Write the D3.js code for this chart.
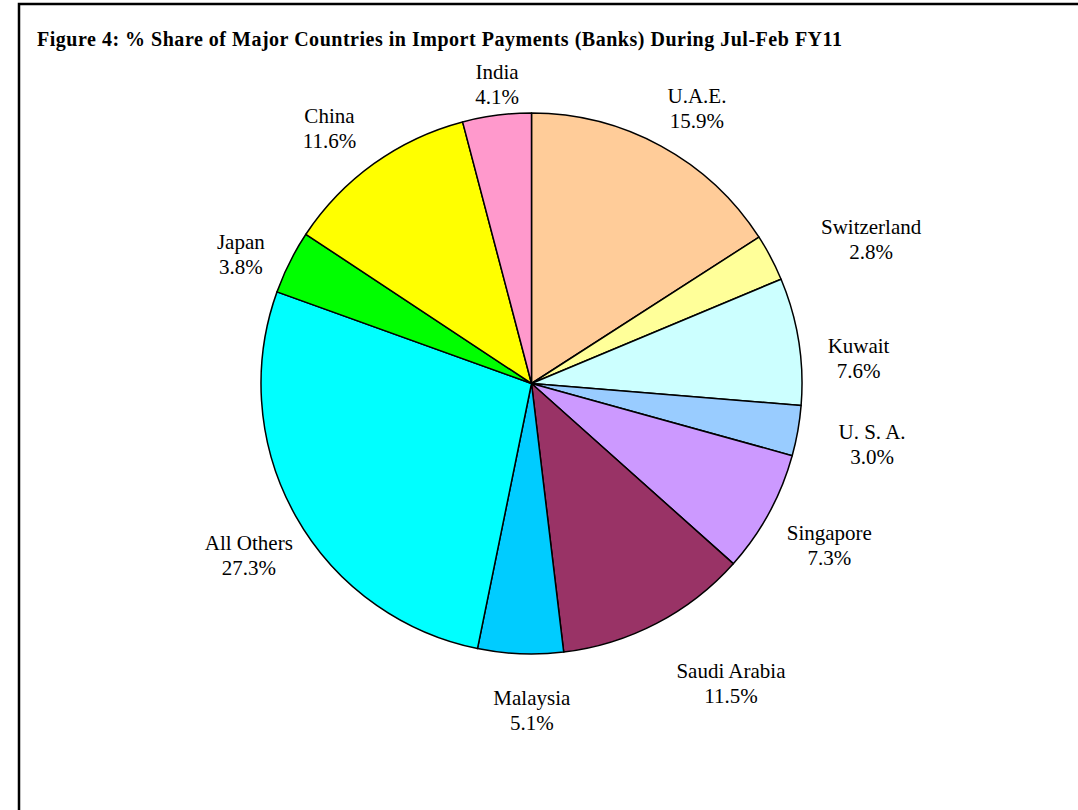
<!DOCTYPE html>
<html>
<head>
<meta charset="utf-8">
<script src="https://cdn.jsdelivr.net/npm/d3@7"></script>
<style>
  html, body { margin: 0; padding: 0; background: #fff; }
  svg { display: block; }
</style>
</head>
<body>
<svg id="chart" width="1078" height="810"></svg>
<script>
// ---- data ----
const countries = ["U.A.E.", "Switzerland", "Kuwait", "U. S. A.", "Singapore", "Saudi Arabia",
                   "Malaysia", "All Others", "Japan", "China", "India"];
const shares = [15.9, 2.8, 7.6, 3.0, 7.3, 11.5, 5.1, 27.3, 3.8, 11.6, 4.1];
const colors = ["#FFCC99", "#FFFF99", "#CCFFFF", "#99CCFF", "#CC99FF", "#993366",
                "#00CCFF", "#00FFFF", "#00FF00", "#FFFF00", "#FF99CC"];
const titleText = "Figure 4: % Share of Major Countries in Import Payments (Banks) During Jul-Feb FY11";

// ---- layout ----
const cx = 531.5, cy = 383.5, R = 270.5;
// label placement: [angle shift from slice middle (deg), distance from centre (px)]
const labelLayout = [[2.4, 321], [4.7, 369], [4.6, 328], [0.1, 346], [-0.1, 339], [-6.1, 360],
                     [-2.4, 327], [-2.0, 331], [-2.7, 318], [-2.8, 325], [0.8, 301]];

const svg = d3.select("#chart");

// frame
svg.append("rect")
  .attr("x", 19).attr("y", 4)
  .attr("width", 1120).attr("height", 860)
  .attr("fill", "#fff").attr("stroke", "#000").attr("stroke-width", 2.5);

// title
svg.append("text")
  .attr("x", 37).attr("y", 46)
  .attr("font-family", "'Liberation Serif', 'Times New Roman', serif")
  .attr("font-weight", "bold")
  .attr("font-size", 20)
  .attr("textLength", 805)
  .attr("lengthAdjust", "spacing")
  .attr("fill", "#000")
  .text(titleText);

const data = countries.map((c, i) => ({ name: c, value: shares[i], color: colors[i], idx: i }));

const pie = d3.pie().value(d => d.value).sort(null).startAngle(0).endAngle(2 * Math.PI);
const arcs = pie(data);
const arc = d3.arc().innerRadius(0).outerRadius(R);

const g = svg.append("g").attr("transform", `translate(${cx},${cy})`);

g.selectAll("path.slice")
  .data(arcs)
  .join("path")
  .attr("class", "slice")
  .attr("d", arc)
  .attr("fill", d => d.data.color)
  .attr("stroke", "#000")
  .attr("stroke-width", 1.5)
  .attr("stroke-linejoin", "round");

// labels
const lbl = g.selectAll("g.label")
  .data(arcs)
  .join("g")
  .attr("class", "label")
  .attr("transform", d => {
    const [dA, r] = labelLayout[d.data.idx];
    const a = (d.startAngle + d.endAngle) / 2 + dA * Math.PI / 180;
    const la = d3.arc().innerRadius(r).outerRadius(r).startAngle(a).endAngle(a);
    const [x, y] = la.centroid();
    return `translate(${x},${y})`;
  });

lbl.append("text")
  .attr("text-anchor", "middle")
  .attr("font-family", "'Liberation Serif', 'Times New Roman', serif")
  .attr("font-size", 21)
  .attr("fill", "#000")
  .each(function(d) {
    const t = d3.select(this);
    t.append("tspan").attr("x", 0).attr("y", -5.5).text(d.data.name);
    t.append("tspan").attr("x", 0).attr("y", 19.5).text(d3.format(".1f")(d.data.value) + "%");
  });
</script>
</body>
</html>
